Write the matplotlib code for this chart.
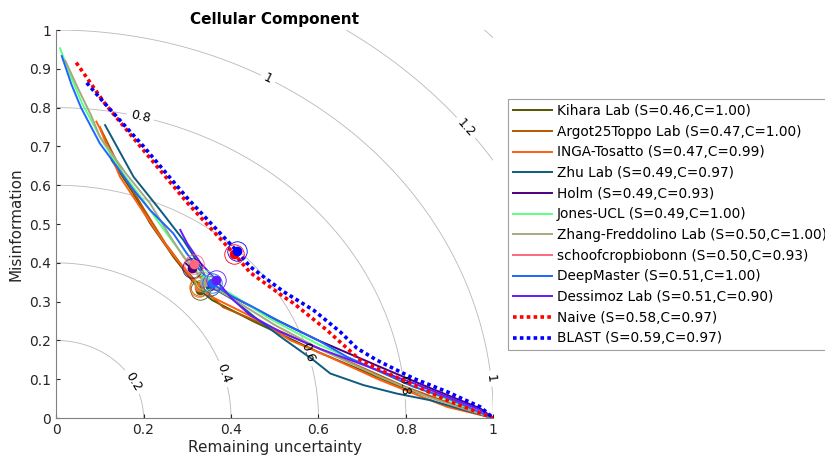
import numpy as np
import matplotlib
matplotlib.use("Agg")
import matplotlib.pyplot as plt

# team names, S and C values from the legend
teams = ["Kihara Lab", "Argot25Toppo Lab", "INGA-Tosatto", "Zhu Lab", "Holm",
         "Jones-UCL", "Zhang-Freddolino Lab", "schoofcropbiobonn", "DeepMaster",
         "Dessimoz Lab", "Naive", "BLAST"]
smin = [0.46, 0.47, 0.47, 0.49, 0.49, 0.49, 0.50, 0.50, 0.51, 0.51, 0.58, 0.59]
cov = [1.00, 1.00, 0.99, 0.97, 0.93, 1.00, 1.00, 0.93, 1.00, 0.90, 0.97, 0.97]
colors = ["#555500", "#b35900", "#ff5f0f", "#0d5c80", "#4c0080", "#5cff85",
          "#a8a880", "#ff6680", "#1f66ff", "#6619ff", "#ff0000", "#0000ff"]

# RU (x) / MI (y) curves
ru_kihara = [0.127, 0.177, 0.215, 0.253, 0.268, 0.30, 0.328, 0.357, 0.45, 0.60, 0.80, 1.0]
mi_kihara = [0.665, 0.579, 0.502, 0.441, 0.416, 0.37, 0.33, 0.304, 0.25, 0.17, 0.075, 0.0]
ru_argot = [0.10, 0.15, 0.20, 0.25, 0.29, 0.33, 0.382, 0.50, 0.65, 0.80, 0.92, 1.0]
mi_argot = [0.75, 0.635, 0.54, 0.45, 0.39, 0.34, 0.286, 0.23, 0.155, 0.08, 0.03, 0.0]
ru_inga = [0.092, 0.10, 0.146, 0.20, 0.261, 0.30, 0.326, 0.36, 0.45, 0.535, 0.62, 0.741, 0.894, 1.0]
mi_inga = [0.764, 0.747, 0.622, 0.53, 0.43, 0.375, 0.338, 0.31, 0.26, 0.201, 0.16, 0.098, 0.029, 0.0]
ru_zhu = [0.112, 0.177, 0.238, 0.291, 0.33, 0.352, 0.405, 0.46, 0.513, 0.589, 0.627, 0.703, 0.78, 0.856, 0.92, 1.0]
mi_zhu = [0.755, 0.622, 0.536, 0.459, 0.39, 0.34, 0.305, 0.255, 0.21, 0.149, 0.115, 0.085, 0.063, 0.046, 0.025, 0.0]
ru_holm = [0.295, 0.31, 0.34, 0.40, 0.50, 0.60, 0.741, 0.85, 0.97, 1.0]
mi_holm = [0.40, 0.386, 0.36, 0.315, 0.255, 0.20, 0.132, 0.08, 0.025, 0.0]
ru_jones = [0.009, 0.03, 0.06, 0.105, 0.15, 0.20, 0.25, 0.30, 0.341, 0.40, 0.486, 0.60, 0.80, 1.0]
mi_jones = [0.953, 0.89, 0.81, 0.715, 0.635, 0.56, 0.48, 0.405, 0.356, 0.32, 0.258, 0.19, 0.09, 0.0]
ru_zhang = [0.021, 0.05, 0.08, 0.10, 0.16, 0.215, 0.26, 0.291, 0.338, 0.40, 0.50, 0.60, 0.741, 0.85, 0.93, 1.0]
mi_zhang = [0.921, 0.85, 0.78, 0.725, 0.63, 0.553, 0.47, 0.416, 0.352, 0.31, 0.24, 0.18, 0.106, 0.055, 0.025, 0.0]
ru_schoof = [0.302, 0.316, 0.33]
mi_schoof = [0.41, 0.396, 0.38]
ru_deep = [0.013, 0.035, 0.057, 0.10, 0.139, 0.177, 0.215, 0.268, 0.299, 0.33, 0.356, 0.40, 0.444,
           0.513, 0.60, 0.665, 0.817, 0.894, 1.0]
mi_deep = [0.933, 0.86, 0.80, 0.708, 0.648, 0.588, 0.536, 0.476, 0.424, 0.38, 0.347, 0.315, 0.29,
           0.248, 0.20, 0.158, 0.081, 0.052, 0.0]
ru_dessimoz = [0.284, 0.30, 0.33, 0.365, 0.40, 0.444, 0.513, 0.60, 0.703, 0.817, 0.97, 1.0]
mi_dessimoz = [0.485, 0.45, 0.40, 0.357, 0.31, 0.265, 0.222, 0.18, 0.137, 0.09, 0.021, 0.0]
ru_naive = [0.046, 0.112, 0.20, 0.30, 0.408, 0.444, 0.52, 0.543, 0.619, 0.696, 0.741, 0.818, 0.894, 0.97, 1.0]
mi_naive = [0.916, 0.81, 0.69, 0.555, 0.422, 0.375, 0.313, 0.296, 0.227, 0.149, 0.124, 0.085, 0.046, 0.013, 0.0]
ru_blast = [0.07, 0.112, 0.20, 0.30, 0.413, 0.444, 0.52, 0.589, 0.650, 0.688, 0.734, 0.818, 0.894, 0.97, 1.0]
mi_blast = [0.864, 0.81, 0.70, 0.567, 0.431, 0.39, 0.326, 0.278, 0.222, 0.18, 0.149, 0.102, 0.068, 0.029, 0.0]

curves_ru = [ru_kihara, ru_argot, ru_inga, ru_zhu, ru_holm, ru_jones, ru_zhang,
             ru_schoof, ru_deep, ru_dessimoz, ru_naive, ru_blast]
curves_mi = [mi_kihara, mi_argot, mi_inga, mi_zhu, mi_holm, mi_jones, mi_zhang,
             mi_schoof, mi_deep, mi_dessimoz, mi_naive, mi_blast]

# Smin points (marked with a dot and a ring)
best_ru = [0.328, 0.33, 0.326, 0.352, 0.310, 0.341, 0.338, 0.316, 0.356, 0.365, 0.408, 0.413]
best_mi = [0.330, 0.34, 0.338, 0.340, 0.386, 0.356, 0.352, 0.396, 0.347, 0.357, 0.422, 0.431]

levels = [0.2, 0.4, 0.6, 0.8, 1.0, 1.2, 1.4]
label_pos = [(0.169, 0.09), (0.375, 0.111), (0.574, 0.168), (0.192, 0.773),
             (0.799, 0.085), (0.485, 0.876), (0.997, 0.102), (0.936, 0.747)]

fig = plt.figure(figsize=(8.25, 4.62), dpi=100)
ax = fig.add_axes([0.068, 0.095, 0.530, 0.840])

# distance contours
gx, gy = np.meshgrid(np.linspace(0, 1, 400), np.linspace(0, 1, 400))
cs = ax.contour(gx, gy, np.hypot(gx, gy), levels=levels, colors="#b8b8b8",
                linewidths=0.6, zorder=1)
lbls = ax.clabel(cs, fmt=lambda v: "%g" % v, fontsize=9, inline=True,
                 inline_spacing=4, manual=label_pos)
for t in lbls:
    t.set_color("black")
    t.set_clip_on(False)

handles = []
for i in range(len(teams)):
    label = "%s (S=%.2f,C=%.2f)" % (teams[i], smin[i], cov[i])
    if teams[i] in ("Naive", "BLAST"):
        h, = ax.plot(curves_ru[i], curves_mi[i], color=colors[i], lw=2.6,
                     linestyle=(0, (1, 0.9)), label=label, zorder=3)
    else:
        h, = ax.plot(curves_ru[i], curves_mi[i], color=colors[i], lw=1.4,
                     label=label, zorder=2)
    handles.append(h)

for i in range(len(teams)):
    ax.plot(best_ru[i], best_mi[i], "o", color=colors[i], ms=6, zorder=4)
    ax.plot(best_ru[i], best_mi[i], "o", mfc="none", mec=colors[i], ms=14,
            mew=0.6, zorder=4)

ax.set_xlim(0, 1)
ax.set_ylim(0, 1)
ax.set_xticks([0, 0.2, 0.4, 0.6, 0.8, 1])
ax.set_xticklabels(["0", "0.2", "0.4", "0.6", "0.8", "1"])
yt = np.round(np.arange(0, 1.01, 0.1), 1)
ax.set_yticks(yt)
ax.set_yticklabels(["%g" % v for v in yt])
ax.tick_params(direction="in", length=3, labelsize=10, colors="#262626")
for s in ["top", "right"]:
    ax.spines[s].set_visible(False)
for s in ["left", "bottom"]:
    ax.spines[s].set_color("#808080")
ax.set_xlabel("Remaining uncertainty", fontsize=11, color="#262626", labelpad=2)
ax.set_ylabel("Misinformation", fontsize=11, color="#262626", labelpad=4)
ax.set_title("Cellular Component", fontsize=11, fontweight="bold", pad=4)

leg = fig.legend(handles=handles, loc="upper left", bbox_to_anchor=(0.616, 0.785),
                 fontsize=9.8, frameon=True, fancybox=False, handlelength=2.9,
                 handletextpad=0.3, labelspacing=0.49, borderpad=0.35,
                 borderaxespad=0)
leg.get_frame().set_edgecolor("#888888")
leg.get_frame().set_linewidth(0.8)

fig.savefig("out.png", dpi=100)
